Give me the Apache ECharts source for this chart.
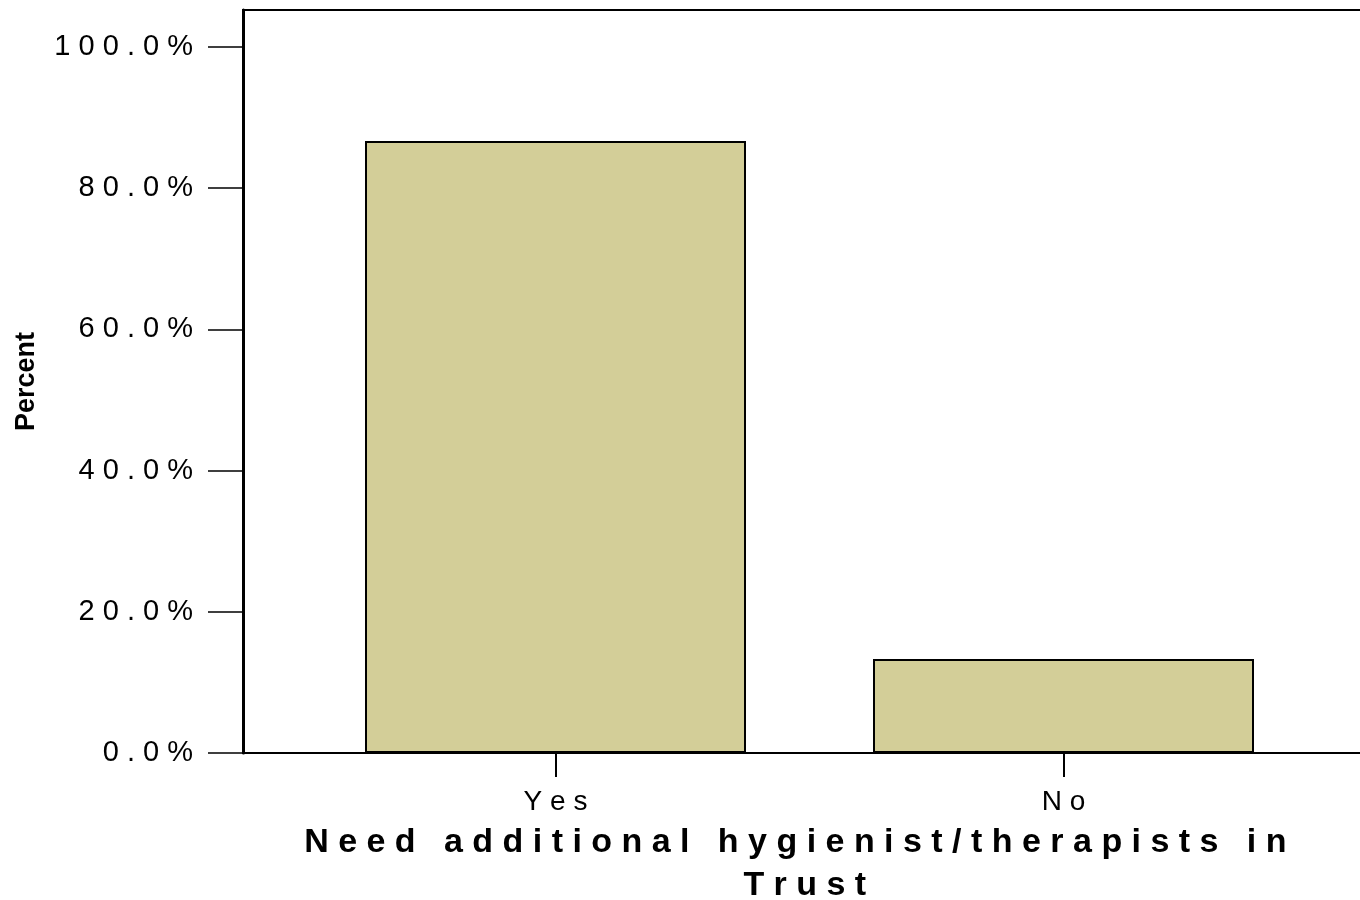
<!DOCTYPE html>
<html>
<head>
<meta charset="utf-8">
<script src="https://cdn.jsdelivr.net/npm/echarts@6/dist/echarts.min.js"></script>
<style>
  html, body { margin: 0; padding: 0; background: #fff; }
  #chart { width: 1360px; height: 900px; }
</style>
</head>
<body>
<div id="chart"></div>
<script>
const categories = ['Yes', 'No']
const percentValues = [86.7, 13.3]
const yTickValues = [0, 20, 40, 60, 80, 100]
const yTickLabels = ['0.0%', '20.0%', '40.0%', '60.0%', '80.0%', '100.0%']
const xTitleLines = ['Need additional hygienist/therapists in', 'Trust']
const yTitle = 'Percent'

// the original output spreads every letter out
const spaced = s => s.split('').join(' ')

const font = "'Liberation Sans', Arial, sans-serif"
const myChart = echarts.init(document.getElementById('chart'))

const option = {
  backgroundColor: '#fff',
  animation: false,
  grid: [
    // outer frame
    { left: 243, right: -2, top: 10, bottom: 147, show: true, borderColor: '#000', borderWidth: 2, outerBoundsMode: 'none' },
    // plotting grid
    { left: 301.5, right: 42.5, top: 47, bottom: 147, outerBoundsMode: 'none' }
  ],
  xAxis: [
    {
      type: 'category',
      gridIndex: 1,
      data: categories,
      axisLine: { show: false },
      axisTick: { show: true, alignWithLabel: true, length: 24, lineStyle: { color: '#000', width: 2 } },
      axisLabel: {
        formatter: v => spaced(v),
        color: '#000', fontFamily: font, fontSize: 28, margin: 35
      },
      name: spaced(xTitleLines[0]) + '   \n' + spaced(xTitleLines[1]) + ' ',
      nameLocation: 'middle',
      nameGap: 67,
      nameTextStyle: { color: '#000', fontFamily: font, fontSize: 34, fontWeight: 'bold', lineHeight: 43 }
    },
    { type: 'value', gridIndex: 0, show: false }
  ],
  yAxis: [
    {
      type: 'value',
      gridIndex: 1,
      min: 0,
      max: 100,
      interval: 20,
      offset: 58.5,
      axisLine: { show: false },
      axisTick: { show: true, length: 35, lineStyle: { color: '#000', width: 1.5 } },
      splitLine: { show: false },
      axisLabel: {
        formatter: v => spaced(yTickLabels[yTickValues.indexOf(v)] || ''),
        color: '#000', fontFamily: font, fontSize: 29, margin: 50
      }
    },
    {
      type: 'value',
      gridIndex: 0,
      axisLine: { show: true, lineStyle: { color: '#000', width: 3 } },
      axisTick: { show: false },
      axisLabel: { show: false },
      splitLine: { show: false },
      name: yTitle,
      nameLocation: 'middle',
      nameGap: 203,
      nameTextStyle: { color: '#000', fontFamily: font, fontSize: 27, fontWeight: 'bold' }
    }
  ],
  series: [
    {
      type: 'bar',
      xAxisIndex: 0,
      yAxisIndex: 0,
      data: percentValues,
      barWidth: '75%',
      itemStyle: { color: '#d3ce98', borderColor: '#000', borderWidth: 2 }
    }
  ]
}

myChart.setOption(option)
</script>
</body>
</html>
